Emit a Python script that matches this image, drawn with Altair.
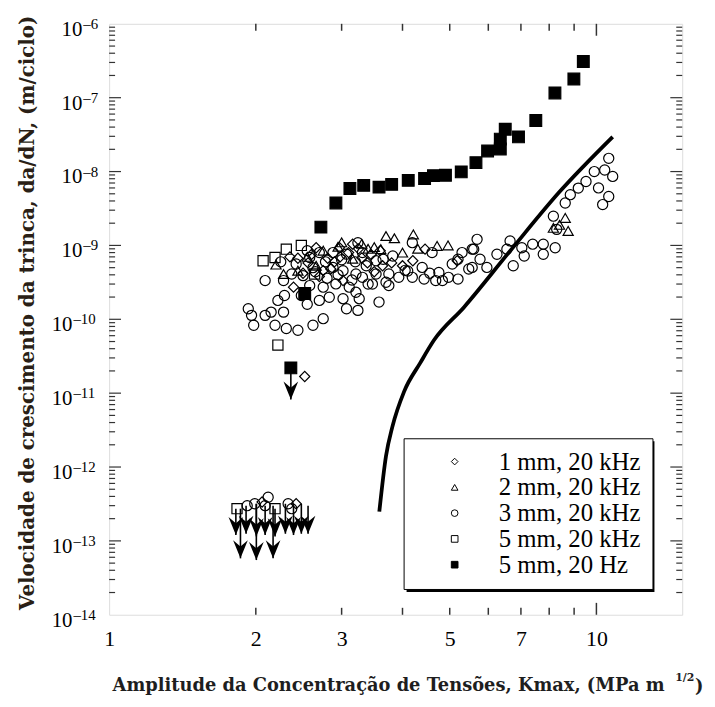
import altair as alt
import pandas as pd

# ---------------- data (K in MPa m^1/2, da/dN in m/ciclo) ----------------
series_names = ["1 mm, 20 kHz", "2 mm, 20 kHz", "3 mm, 20 kHz", "5 mm, 20 kHz", "5 mm, 20 Hz"]

# 1 mm, 20 kHz (diamonds)
s1_k = [2.52, 2.39, 2.75, 2.97, 3.16, 2.66, 4.45, 5.18, 2.56, 3.02, 3.39, 2.44, 2.81, 3.64, 4.00,
        2.60, 2.90, 3.10, 3.30, 2.70, 3.50, 3.80, 4.20, 2.85, 3.25, 2.50, 3.60, 2.35, 2.98, 3.45,
        2.06, 2.42]
s1_v = [1.68e-11, 2.72e-10, 4.55e-10, 9.3e-10, 1.04e-9, 9.3e-10, 8.9e-10, 6.2e-10, 5.8e-10, 3.34e-10,
        5.8e-10, 6.7e-10, 6.7e-10, 5.3e-10, 5.3e-10, 7.5e-10, 6.0e-10, 8.0e-10, 6.8e-10, 3.8e-10,
        4.4e-10, 5.8e-10, 6.2e-10, 4.8e-10, 9.0e-10, 4.2e-10, 8.5e-10, 7.0e-10, 7.0e-10, 7.5e-10,
        3.36e-13, 3.18e-13]

# 2 mm, 20 kHz (triangles)
s2_k = [3.70, 3.85, 4.21, 4.71, 4.96, 8.75, 8.63, 8.16, 3.61, 4.00, 2.28, 2.66, 2.95, 2.44, 3.16,
        8.40, 2.55, 3.00, 3.40, 2.20, 3.30, 3.50, 2.75, 4.30]
s2_v = [1.34e-9, 1.25e-9, 1.41e-9, 9.85e-10, 1.0e-9, 1.57e-9, 2.36e-9, 1.73e-9, 8.9e-10, 8.0e-10,
        4.1e-10, 5.3e-10, 9.6e-10, 4.55e-10, 6.6e-10, 1.9e-9, 7.0e-10, 1.1e-9, 9.0e-10, 5.5e-10,
        1.05e-9, 9.5e-10, 8.5e-10, 9.0e-10]

# 3 mm, 20 kHz (circles)
s3_k = [1.93, 1.96, 1.98, 2.09, 2.15, 2.28, 2.19, 2.31, 2.44, 2.62, 2.75,
        2.09, 2.29, 2.28, 2.48, 2.70, 2.83, 3.02, 3.07, 2.58, 2.75, 2.92, 3.11,
        2.88, 3.02, 3.07, 2.88, 2.70, 2.58, 2.42, 2.37,
        3.24, 3.31, 3.53, 3.82, 3.37, 3.21, 3.31, 3.53, 3.75, 3.70, 3.93, 4.19, 4.43, 4.68, 4.97,
        5.20, 5.47, 5.20, 4.39, 4.60, 3.21, 3.26, 3.24, 3.58, 4.75, 5.30, 5.56, 4.19, 5.69, 5.60,
        5.77, 5.56, 5.96, 6.25, 6.65, 6.75, 7.11, 7.40, 7.78, 8.23, 7.78, 8.16, 8.29, 8.63, 8.84,
        9.18, 9.52, 9.90, 10.4, 10.6, 10.8, 10.1, 10.6, 10.3, 4.83, 5.06, 6.55, 7.03, 3.75, 3.47,
        2.50, 2.65, 2.80, 2.95, 3.15, 3.40, 2.55, 2.22, 4.05, 3.00,
        2.55, 2.62, 2.78, 3.20, 3.65, 4.10, 4.55, 2.25,
        1.92, 1.99, 2.12, 2.09, 2.33, 2.37]
s3_v = [1.39e-10, 1.13e-10, 8.3e-11, 1.13e-10, 1.25e-10, 1.25e-10, 8.3e-11, 7.5e-11, 7.1e-11, 8.3e-11, 1.02e-10,
        3.34e-10, 2.10e-10, 3.34e-10, 2.10e-10, 1.80e-10, 1.99e-10, 1.90e-10, 1.39e-10, 2.86e-10, 2.72e-10, 3.01e-10, 2.72e-10,
        5.04e-10, 4.55e-10, 7.62e-10, 8.0e-10, 8.0e-10, 6.86e-10, 5.6e-10, 4.1e-10,
        1.09e-9, 8.0e-10, 6.2e-10, 7.2e-10, 5.3e-10, 4.1e-10, 3.7e-10, 4.1e-10, 4.1e-10, 3.17e-10, 3.7e-10, 3.7e-10, 3.5e-10, 3.34e-10, 3.7e-10,
        3.5e-10, 4.8e-10, 6.5e-10, 5.04e-10, 8.0e-10, 2.32e-10, 1.90e-10, 1.32e-10, 1.71e-10, 4.3e-10, 8.0e-10, 8.9e-10, 1.09e-9, 1.21e-9, 8.9e-10,
        6.5e-10, 5.04e-10, 5.04e-10, 7.6e-10, 1.15e-9, 5.3e-10, 7.2e-10, 1.04e-9, 1.04e-9, 9.3e-10, 7.6e-10, 2.49e-9, 1.65e-9, 3.75e-9, 4.87e-9,
        5.97e-9, 7.34e-9, 1.0e-8, 1.05e-8, 1.51e-8, 8.6e-9, 6.0e-9, 4.6e-9, 3.57e-9, 3.34e-10, 5.6e-10, 8.9e-10, 9.3e-10, 2.86e-10, 3.0e-10,
        3.9e-10, 4.4e-10, 3.6e-10, 4.0e-10, 3.4e-10, 3.0e-10, 1.6e-10, 1.8e-10, 4.6e-10, 6.4e-10,
        8.5e-10, 5.0e-10, 6.0e-10, 6.0e-10, 6.5e-10, 4.5e-10, 4.2e-10, 6.0e-10,
        3.0e-13, 3.18e-13, 3.9e-13, 3.0e-13, 3.18e-13, 2.73e-13]

# 5 mm, 20 kHz (open squares)
s4_k = [2.07, 2.19, 2.31, 2.48, 2.64, 2.22, 1.83, 2.19]
s4_v = [6.2e-10, 6.86e-10, 8.9e-10, 1.0e-9, 4.1e-10, 4.48e-11, 2.73e-13, 2.73e-13]

# 5 mm, 20 Hz (filled squares)
s5_k = [2.52, 2.36, 2.72, 2.92, 3.12, 3.33, 3.58, 3.80, 4.11, 4.44, 4.63, 4.90, 5.28, 5.66,
        5.98, 6.35, 6.35, 6.50, 6.92, 7.51, 8.22, 8.99, 9.40]
s5_v = [2.23e-10, 2.2e-11, 1.77e-9, 3.76e-9, 5.9e-9, 6.5e-9, 6.15e-9, 6.7e-9, 7.6e-9, 8.05e-9,
        8.8e-9, 8.9e-9, 9.9e-9, 1.32e-8, 1.9e-8, 2.02e-8, 2.75e-8, 3.74e-8, 2.95e-8, 4.9e-8,
        1.16e-7, 1.79e-7, 3.09e-7]

# solid curve
line_k = [3.585, 3.70, 3.815, 4.03, 4.35, 4.64, 5.35, 6.65, 8.42, 10.8]
line_v = [2.49e-13, 1.41e-12, 3.55e-12, 1.05e-11, 2.57e-11, 5.2e-11, 1.46e-10, 8.4e-10, 5.4e-9, 2.95e-8]

# run-out arrows (upper bounds): K, start, tip
arrow_k = [1.82, 1.91, 2.005, 2.09, 2.19, 2.30, 2.39, 2.48, 2.56, 1.86, 2.005, 2.17, 2.36]
arrow_from = [2.73e-13, 3.0e-13, 3.18e-13, 3.0e-13, 2.73e-13, 3.18e-13, 3.18e-13, 3.18e-13, 3.0e-13,
              2.73e-13, 3.18e-13, 3.0e-13, 2.2e-11]
arrow_to = [1.2e-13, 1.25e-13, 1.15e-13, 1.2e-13, 1.15e-13, 1.25e-13, 1.2e-13, 1.25e-13, 1.25e-13,
            5.8e-14, 5.5e-14, 5.8e-14, 8.2e-12]

# axis ticks and labels
x_label_values = [1, 2, 3, 5, 7, 10]
x_minor_ticks = [2, 3, 4, 5, 6, 7, 8, 9]
x_major_ticks = [10]
y_decades = [1e-14, 1e-13, 1e-12, 1e-11, 1e-10, 1e-9, 1e-8, 1e-7, 1e-6]
y_base_labels = ["10"] * 9
y_exp_labels = ["\u201314", "\u201313", "\u201312", "\u201311", "\u201310", "\u20139", "\u20138", "\u20137", "\u20136"]
y_minor_ticks = [m * 10.0 ** e for e in range(-14, -6) for m in range(2, 10)]

x_title = "Amplitude da Concentração de Tensões, Kmax, (MPa m"
x_title_sup = "1/2"
x_title_end = ")"
y_title = "Velocidade de crescimento da trinca, da/dN, (m/ciclo)"

# ---------------- chart ----------------
W, H = 578, 596
TICK = "#333333"
TITLE_FONT = "DejaVu Serif"
TICK_FONT = "Liberation Serif"

xscale = alt.Scale(type="log", domain=[1, 15], nice=False)
yscale = alt.Scale(type="log", domain=[1e-14, 1e-6], nice=False)

xaxis = alt.Axis(values=x_label_values, format="d", ticks=False, domain=False, grid=False,
                 labelFont=TICK_FONT, labelFontSize=22, labelColor="black", labelPadding=14,
                 labelFlush=False, labelOverlap=False,
                 title=x_title, titleFont=TITLE_FONT, titleFontWeight="bold", titleFontSize=18,
                 titleColor="#1e1e1e", titleX=3, titleY=76, titleAlign="left", titleAnchor="start",
                 titleBaseline="alphabetic")

yaxis = alt.Axis(values=y_decades, labels=False, ticks=False, domain=False, grid=False,
                 title=y_title, titleFont=TITLE_FONT, titleFontWeight="bold", titleFontSize=20,
                 titleColor="#2a1f16", titleX=-76, titleY=291, titleAngle=270, titleAlign="center",
                 titleBaseline="alphabetic")


def X(field):
    return alt.X(field, type="quantitative", scale=xscale, axis=xaxis)


def Y(field):
    return alt.Y(field, type="quantitative", scale=yscale, axis=yaxis)


rows = []
for name, ks, vs in zip(series_names, [s1_k, s2_k, s3_k, s4_k, s5_k], [s1_v, s2_v, s3_v, s4_v, s5_v]):
    for k, v in zip(ks, vs):
        rows.append({"k": k, "v": v, "series": name})
pts = pd.DataFrame(rows)

legend = alt.Legend(orient="none", legendX=297, legendY=418, padding=11,
                    symbolOffset=28, labelOffset=32, rowPadding=0,
                    labelFont=TICK_FONT, labelFontSize=25, labelColor="black",
                    labelLimit=400, symbolSize=45, symbolStrokeWidth=1,
                    fillColor="white", strokeColor="black", zindex=2)

points = alt.Chart(pts).mark_point(strokeWidth=1.2, opacity=1).encode(
    x=X("k"), y=Y("v"),
    shape=alt.Shape("series:N", title=None, legend=legend,
                    scale=alt.Scale(domain=series_names,
                                    range=["diamond", "triangle-up", "circle", "square", "square"])),
    fill=alt.Fill("series:N", title=None, legend=legend,
                  scale=alt.Scale(domain=series_names,
                                  range=["transparent", "transparent", "transparent", "transparent", "black"])),
    stroke=alt.Stroke("series:N", title=None, legend=legend,
                      scale=alt.Scale(domain=series_names,
                                      range=["black", "black", "black", "black", "black"])),
    size=alt.Size("kind:N", legend=None,
                  scale=alt.Scale(domain=["open", "filled"], range=[105, 140])),
    order=alt.Order("ord:Q"),
).transform_calculate(
    ord="datum.series == '5 mm, 20 Hz' ? 1 : 0",
    kind="datum.series == '5 mm, 20 Hz' ? 'filled' : 'open'",
)

line_df = pd.DataFrame({"k": line_k, "v": line_v})
curve = alt.Chart(line_df).mark_line(color="black", strokeWidth=3.8, interpolate="monotone").encode(
    x=X("k"), y=Y("v"))

arr_df = pd.DataFrame({"k": arrow_k, "v": arrow_from, "v2": arrow_to})
stems = alt.Chart(arr_df).mark_rule(color="black", strokeWidth=1.6).encode(
    x=X("k"), y=Y("v"), y2="v2")
heads = alt.Chart(arr_df).mark_point(
    shape="M-0.65,-1.6L0,0L0.65,-1.6L0,-1.05Z", size=520, filled=True, color="black", opacity=1
).encode(x=X("k"), y=Y("v2"))

xt_minor = pd.DataFrame({"k": x_minor_ticks})
xt_major = pd.DataFrame({"k": x_major_ticks})
yt_major = pd.DataFrame({"v": y_decades[1:-1]})
yt_minor = pd.DataFrame({"v": y_minor_ticks})


def xticks(df, length):
    top = alt.Chart(df).mark_rule(color=TICK, strokeWidth=1.5).encode(
        x=X("k"), y=alt.value(0), y2=alt.value(length))
    bot = alt.Chart(df).mark_rule(color=TICK, strokeWidth=1.5).encode(
        x=X("k"), y=alt.value(H - length), y2=alt.value(H))
    return [top, bot]


def yticks(df, length):
    left = alt.Chart(df).mark_rule(color=TICK, strokeWidth=1.2).encode(
        y=Y("v"), x=alt.value(0), x2=alt.value(length))
    right = alt.Chart(df).mark_rule(color=TICK, strokeWidth=1.2).encode(
        y=Y("v"), x=alt.value(W - length), x2=alt.value(W))
    return [left, right]


# y tick labels: "10" with a raised exponent
ylab = pd.DataFrame({"v": y_decades, "base": y_base_labels, "exp": y_exp_labels})


def ylabels(cond, xbase):
    base = alt.Chart(ylab).transform_filter(cond).mark_text(
        align="right", baseline="alphabetic", font=TICK_FONT, fontSize=21, color="black", dy=12
    ).encode(y=Y("v"), x=alt.value(xbase), text="base:N")
    exp = alt.Chart(ylab).transform_filter(cond).mark_text(
        align="left", baseline="alphabetic", font=TICK_FONT, fontSize=15, color="black", dy=5
    ).encode(y=Y("v"), x=alt.value(xbase + 1), text="exp:N")
    return [base, exp]


one = alt.Data(values=[{}])
shadow = alt.Chart(one).mark_rect(color="black").encode(
    x=alt.value(300), x2=alt.value(550), y=alt.value(421), y2=alt.value(573))

sup = alt.Chart(one).mark_text(text=x_title_sup, font=TITLE_FONT, fontWeight="bold", fontSize=11,
                               align="left", baseline="alphabetic", color="#1e1e1e").encode(
    x=alt.value(571), y=alt.value(663))
close = alt.Chart(one).mark_text(text=x_title_end, font=TITLE_FONT, fontWeight="bold", fontSize=18,
                                 align="left", baseline="alphabetic", color="#1e1e1e").encode(
    x=alt.value(591), y=alt.value(674))

layers = (xticks(xt_minor, 7) + xticks(xt_major, 12) + yticks(yt_major, 12) + yticks(yt_minor, 6)
          + ylabels("length(datum.exp) < 3", -27) + ylabels("length(datum.exp) >= 3", -37)
          + [shadow, curve, stems, heads, points, sup, close])

chart = alt.layer(*layers).properties(
    width=W, height=H,
    autosize=alt.AutoSizeParams(type="none"),
    padding={"left": 102, "top": 13, "right": 25, "bottom": 82},
).configure_view(stroke="#333333", strokeWidth=2).configure(background="white")

chart.save("out.html", embed_options={"renderer": "svg", "actions": False})
